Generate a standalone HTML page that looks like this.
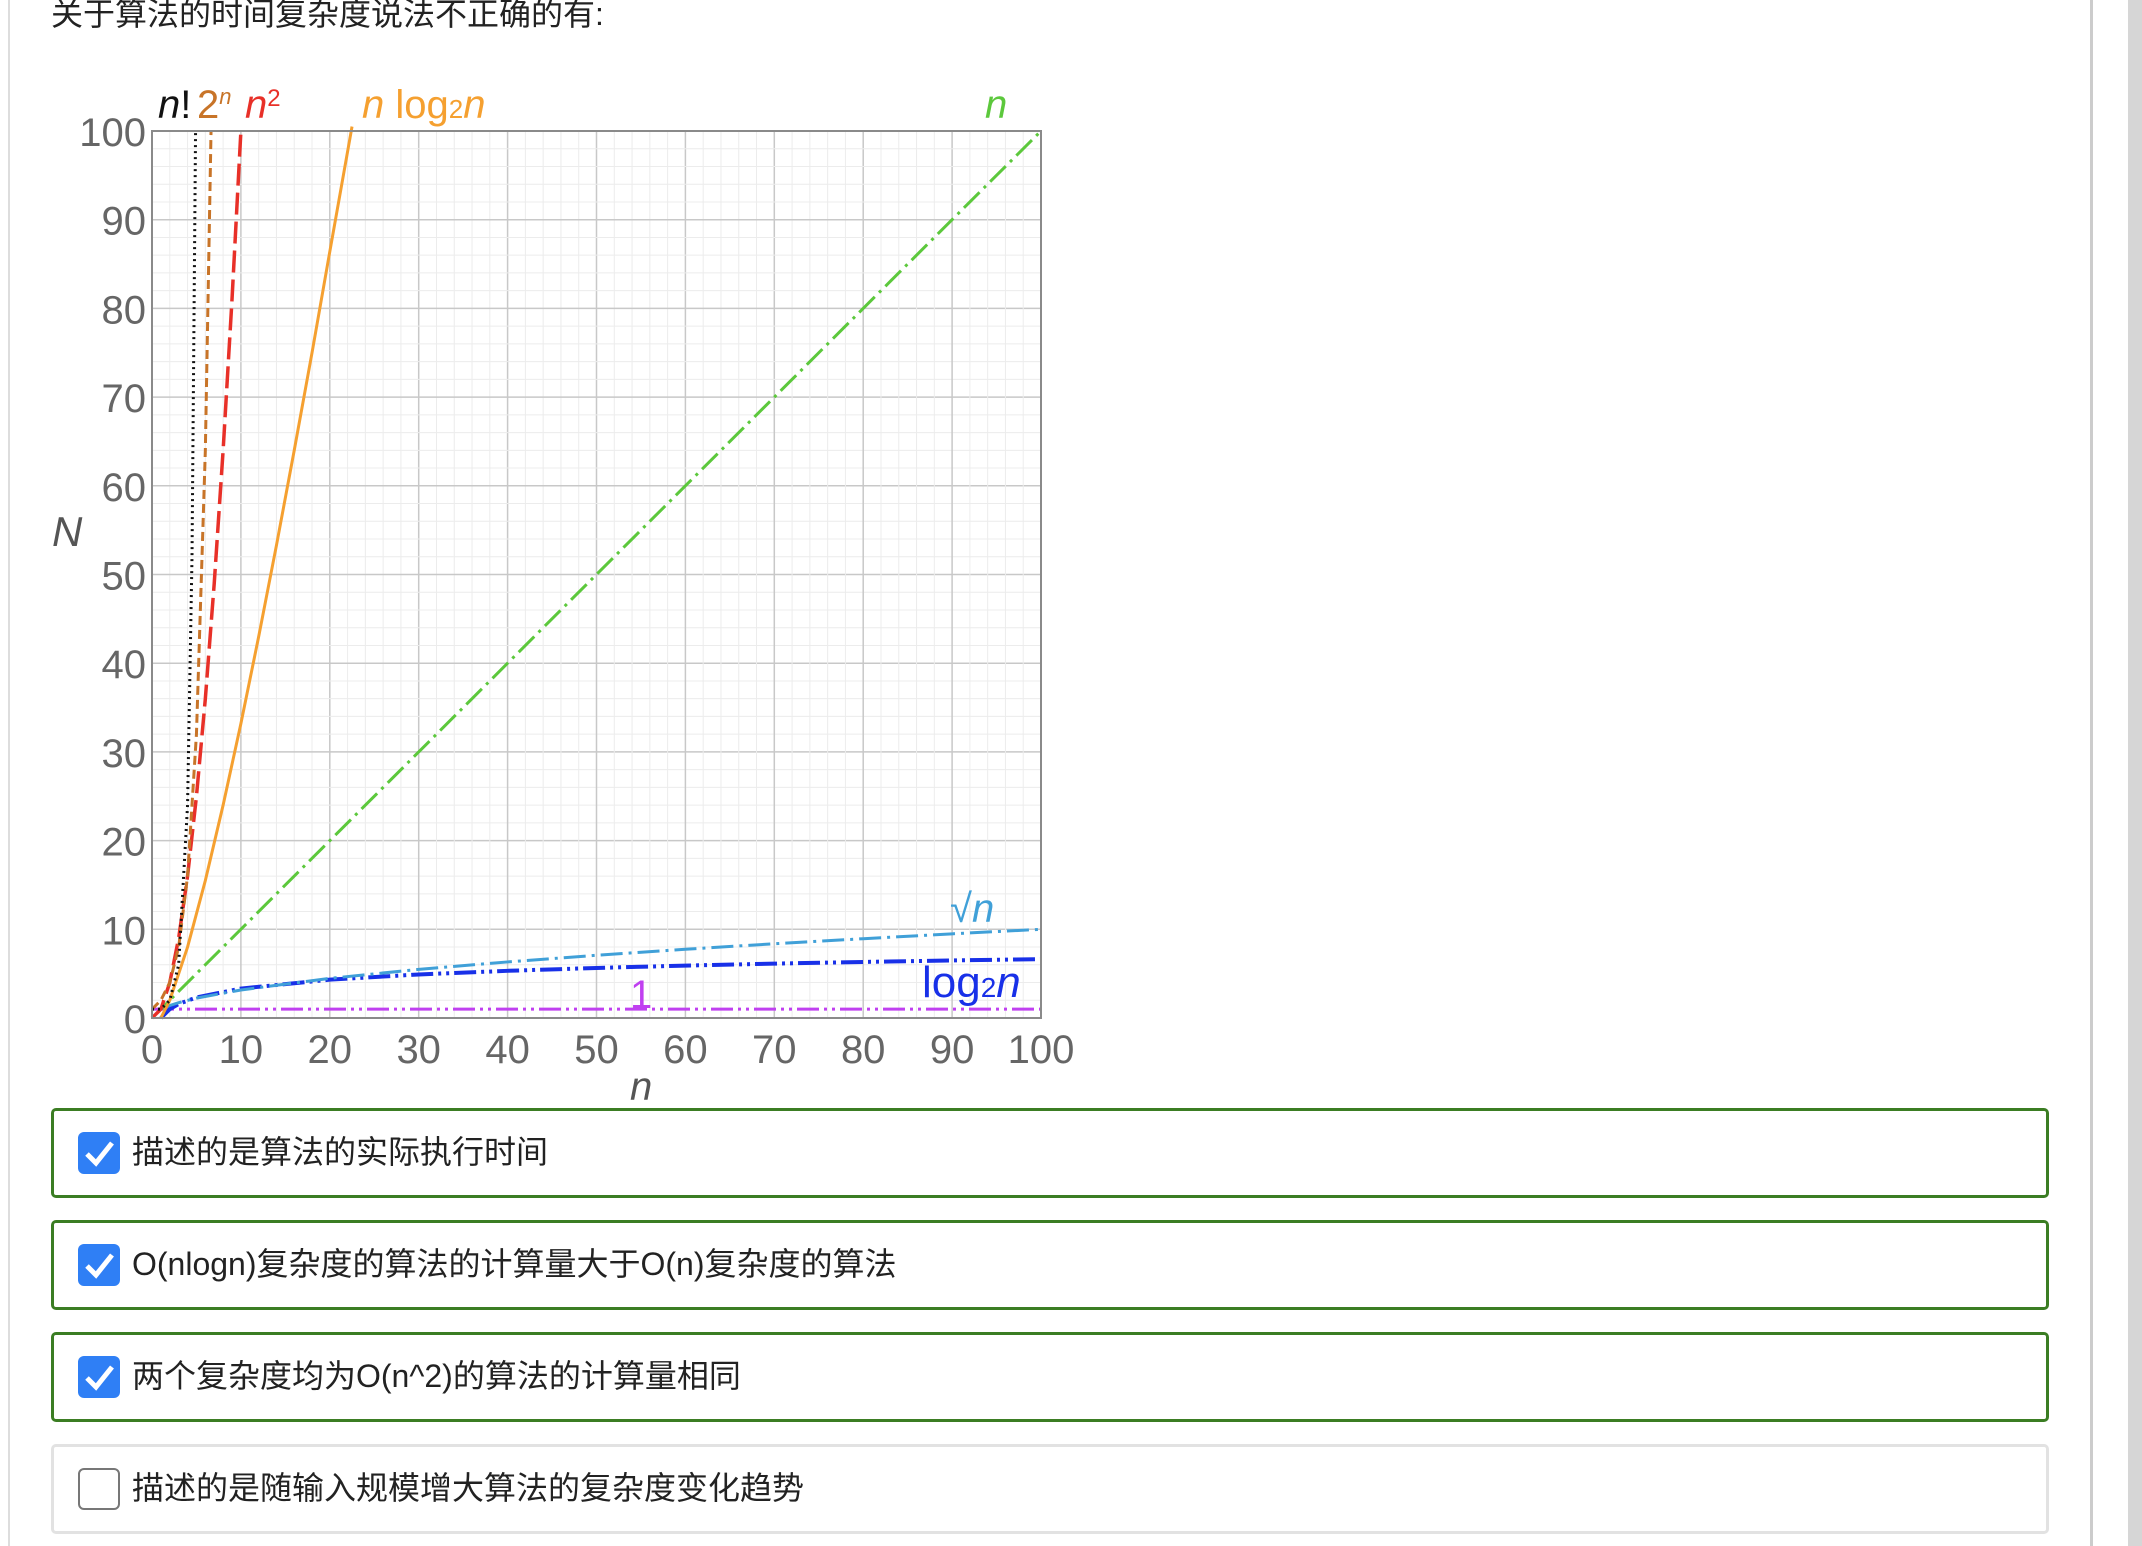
<!DOCTYPE html>
<html><head><meta charset="utf-8"><style>
body{margin:0;width:2142px;height:1546px;background:#fff;position:relative;overflow:hidden;font-family:"Liberation Sans","Noto Sans CJK SC",sans-serif;}
.abs{position:absolute;}
.opt{position:absolute;left:51px;width:1992px;height:84px;border:3px solid #3b7d23;border-radius:5px;background:#fff;}
.opt.off{border-color:#e2e2e2;}
.cb{position:absolute;left:24px;top:21px;width:42px;height:42px;border-radius:6px;background:#2f7ff5;}
.off .cb{background:#fff;border:2px solid #777;width:38px;height:38px;}
.lbl{position:absolute;left:78px;top:16px;font-size:32px;color:#222;white-space:nowrap;}
</style></head><body>
<div class="abs" style="left:8px;top:0;width:2px;height:1546px;background:#ddd"></div>
<div class="abs" style="left:2090px;top:0;width:3px;height:1546px;background:#ccc"></div>
<div class="abs" style="left:2128px;top:0;width:14px;height:1546px;background:#d6d6d6"></div>
<div class="abs" style="left:51px;top:-11px;font-size:32px;color:#222;white-space:nowrap">关于算法的时间复杂度说法不正确的有:</div>

<svg class="abs" style="left:0;top:0" width="2142" height="1100">
<g id="grid"></g><g id="curves"></g><g id="axes"></g>
</svg>

<div class="opt" style="top:1108px"><div class="cb"><svg width="42" height="42"><path d="M9 22 L18 31 L34 11" stroke="#fff" stroke-width="5" fill="none"/></svg></div><div class="lbl">描述的是算法的实际执行时间</div></div>
<div class="opt" style="top:1220px"><div class="cb"><svg width="42" height="42"><path d="M9 22 L18 31 L34 11" stroke="#fff" stroke-width="5" fill="none"/></svg></div><div class="lbl">O(nlogn)复杂度的算法的计算量大于O(n)复杂度的算法</div></div>
<div class="opt" style="top:1332px"><div class="cb"><svg width="42" height="42"><path d="M9 22 L18 31 L34 11" stroke="#fff" stroke-width="5" fill="none"/></svg></div><div class="lbl">两个复杂度均为O(n^2)的算法的计算量相同</div></div>
<div class="opt off" style="top:1444px"><div class="cb"></div><div class="lbl">描述的是随输入规模增大算法的复杂度变化趋势</div></div>

<script>
const xTicks=[0,10,20,30,40,50,60,70,80,90,100];
const yTicks=[0,10,20,30,40,50,60,70,80,90,100];
const factN=[0,1,2,3,4,4.5,4.9];
const factV=[1,1,2,6,24,52,100];
const expN=[0,1,2,3,4,5,6,6.64];
const expV=[1,2,4,8,16,32,64,100];
const sqN=[0,1,2,3,4,5,6,7,8,9,10];
const sqV=[0,1,4,9,16,25,36,49,64,81,100];
const nlN=[1,2,4,6,8,10,12,14,16,18,20,22.5];
const nlV=[0,2,8,15.5,24,33.2,43,53.3,64,75,86.4,101];
const linN=[0,100];
const linV=[0,100];
const slowN=[1,2,3,5,10,20,30,40,50,60,70,80,90,100];
const sqrtV=[1,1.41,1.73,2.24,3.16,4.47,5.48,6.32,7.07,7.75,8.37,8.94,9.49,10];
const logV=[0,1,1.58,2.32,3.32,4.32,4.91,5.32,5.64,5.91,6.13,6.32,6.49,6.64];
const constN=[0,100];
const constV=[1,1];
const L=152,R=1041,T=131,B=1018;
const X=v=>L+(v/100)*(R-L), Y=v=>B-(v/100)*(B-T);
const NS='http://www.w3.org/2000/svg';
function mk(tag,at,par){const e=document.createElementNS(NS,tag);for(const k in at)e.setAttribute(k,at[k]);document.getElementById(par).appendChild(e);return e;}
for(let v=0;v<=100;v+=2){
 const maj=v%10===0;
 const a=mk('line',{x1:X(v),x2:X(v),y1:T,y2:B,stroke:maj?'#c8c8c8':'#ececec','stroke-width':maj?1.5:1},'grid');
 
 
 const b=mk('line',{x1:L,x2:R,y1:Y(v),y2:Y(v),stroke:maj?'#c8c8c8':'#ececec','stroke-width':maj?1.5:1},'grid');
 
 
}
const fr=mk('rect',{x:L,y:T,width:R-L,height:B-T,fill:'none',stroke:'#8a8a8a','stroke-width':2},'axes');


xTicks.forEach(t=>{const e=mk('text',{x:X(t),y:1063,'text-anchor':'middle','font-size':40,fill:'#666','font-family':'Liberation Sans'},'axes');e.textContent=t;
 
 });
yTicks.forEach(t=>{const e=mk('text',{x:146,y:Y(t)+15,'text-anchor':'end','font-size':40,fill:'#666','font-family':'Liberation Sans'},'axes');e.textContent=t;
 
 });
function curve(xs,ys,color,w,dash,name){
 const pts=xs.map((x,i)=>X(x)+','+Y(Math.min(ys[i],100.5))).join(' ');
 const p=mk('polyline',{points:pts,fill:'none',stroke:color,'stroke-width':w,'stroke-dasharray':dash},'curves');
 
 
}
curve(constN,constV,'#c040f0',3,'22 5 3 5 3 5','series-constant');
curve(slowN,logV,'#1830e8',4,'22 5 3 5 3 5','series-log2n');
curve(slowN,sqrtV,'#40a0d8',3,'22 6 3 6','series-sqrtn');
curve(linN,linV,'#5cc83c',3,'22 6 3 6','series-n');
curve(nlN,nlV,'#f5a030',3,'none','series-nlogn');
curve(sqN,sqV,'#e83028',3.5,'22 7','series-n-squared');
curve(expN,expV,'#c87428',3,'9 5','series-2n');
curve(factN,factV,'#111',3,'2 4','series-factorial');
function lbl(x,y,html,color,size,name){const e=mk('text',{x:x,y:y,fill:color,'font-size':size,'font-family':'Liberation Sans'},'axes');e.innerHTML=html;
 
 }
lbl(158,118,'<tspan font-style="italic">n</tspan>!','#111',40,'label-factorial');
lbl(197,118,'2<tspan font-size="22" dy="-14" font-style="italic">n</tspan>','#c87428',40,'label-2n');
lbl(245,118,'<tspan font-style="italic">n</tspan><tspan font-size="24" dy="-12">2</tspan>','#e83028',40,'label-n-squared');
lbl(362,118,'<tspan font-style="italic">n</tspan> log<tspan font-size="26">2</tspan><tspan font-style="italic">n</tspan>','#f5a030',40,'label-nlogn');
lbl(985,118,'<tspan font-style="italic">n</tspan>','#5cc83c',40,'label-n');
lbl(950,922,'√<tspan font-style="italic">n</tspan>','#40a0d8',40,'label-sqrtn');
lbl(922,997,'log<tspan font-size="28">2</tspan><tspan font-style="italic">n</tspan>','#1830e8',44,'label-log2n');
lbl(630,1008,'1','#c040f0',40,'label-constant');
lbl(630,1100,'<tspan font-style="italic">n</tspan>','#555',40,'x-axis-title');
lbl(52,546,'<tspan font-style="italic">N</tspan>','#555',42,'y-axis-title');
</script>
</body></html>
